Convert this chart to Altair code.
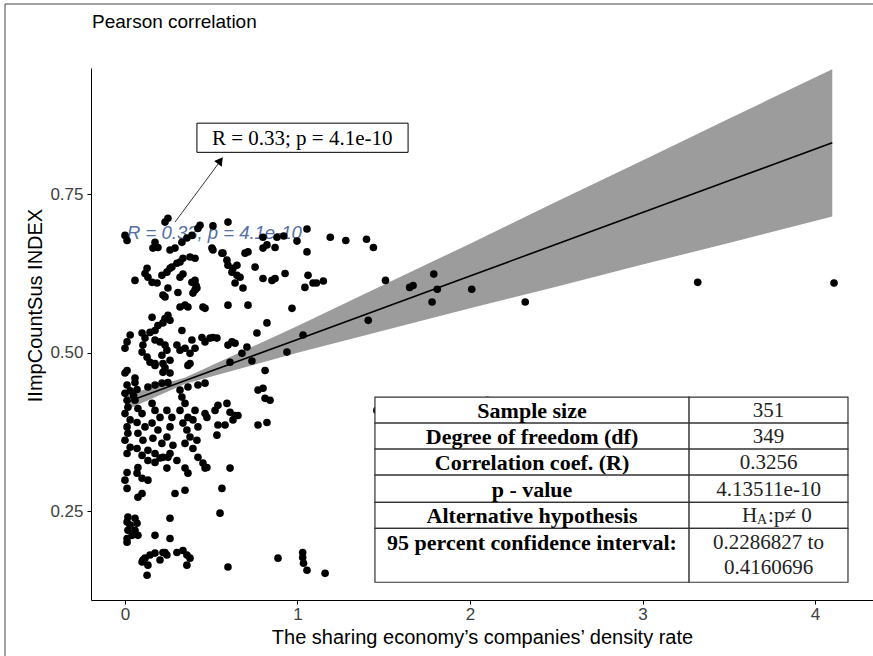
import altair as alt
import pandas as pd

# ---------------- data ----------------
pts_upper = [
    (0, 0.685), (0.012, 0.677), (0.249, 0.712), (0.232, 0.706), (0.174, 0.674), (0.191, 0.666),
    (0.162, 0.665), (0.261, 0.662), (0.29, 0.665), (0.33, 0.674), (0.359, 0.681), (0.388, 0.685),
    (0.423, 0.696), (0.435, 0.701), (0.336, 0.649), (0.319, 0.643), (0.406, 0.649), (0.272, 0.635),
    (0.243, 0.627), (0.301, 0.641), (0.128, 0.633), (0.116, 0.625), (0.133, 0.619), (0.058, 0.614),
    (0.157, 0.611), (0.186, 0.61), (0.249, 0.602), (0.22, 0.591), (0.307, 0.595), (0.394, 0.594),
    (0.417, 0.602), (0.406, 0.614), (0.348, 0.575), (0.365, 0.572), (0.464, 0.57), (0.249, 0.559),
    (0.232, 0.554), (0.22, 0.547), (0.191, 0.543), (0.174, 0.535), (0.33, 0.535), (0.51, 0.70),
    (0.51, 0.662), (0.568, 0.657), (0.319, 0.572), (0.214, 0.622), (0.336, 0.624), (0.319, 0.619),
    (0.388, 0.611), (0.412, 0.606), (0.406, 0.599), (0.232, 0.588), (0.145, 0.532), (0.157, 0.556),
    (0.261, 0.551), (0.261, 0.633), (0.377, 0.651), (0.452, 0.572),
    (0.597, 0.706), (0.504, 0.665), (0.562, 0.657), (0.591, 0.646), (0.597, 0.638), (0.626, 0.633),
    (0.649, 0.638), (0.62, 0.627), (0.649, 0.622), (0.667, 0.619), (0.638, 0.61), (0.684, 0.602),
    (0.696, 0.657), (0.713, 0.659), (0.754, 0.635), (0.8, 0.617), (0.852, 0.614), (0.87, 0.617),
    (0.928, 0.625), (0.8, 0.665), (0.823, 0.67), (0.87, 0.666), (0.8, 0.682), (0.881, 0.682),
    (0.92, 0.684), (1.055, 0.659), (1.061, 0.622), (1.043, 0.603), (1.09, 0.61), (0.597, 0.575),
    (0.713, 0.575), (0.968, 0.57), (0.823, 0.547), (0.765, 0.531), (1.032, 0.528),
]
pts_right = [
    (0.997, 0.676), (1.055, 0.695), (1.19, 0.682), (1.28, 0.677), (1.40, 0.679), (1.44, 0.666),
    (1.51, 0.614), (1.65, 0.603), (1.67, 0.606), (1.79, 0.624), (1.81, 0.600), (1.78, 0.58),
    (2.01, 0.600), (1.41, 0.551), (1.11, 0.61), (1.15, 0.613), (2.32, 0.58), (3.32, 0.611),
    (4.11, 0.61), (1.46, 0.409), (2.10, 0.425),
]
pts_middle = [
    (0.03, 0.528), (0.012, 0.517), (0, 0.507), (0.099, 0.531), (0.116, 0.523), (0.104, 0.512),
    (0.099, 0.501), (0.128, 0.493), (0.145, 0.485), (0.174, 0.48), (0.174, 0.52), (0.203, 0.517),
    (0.232, 0.512), (0.243, 0.504), (0.214, 0.496), (0.301, 0.512), (0.319, 0.504), (0.348, 0.507),
    (0.388, 0.52), (0.406, 0.507), (0.377, 0.499), (0.446, 0.524), (0.464, 0.517), (0.232, 0.476),
    (0.22, 0.469), (0.261, 0.468), (0.365, 0.48), (0, 0.468), (0.012, 0.449), (0.058, 0.453),
    (0.133, 0.446), (0.174, 0.449), (0.214, 0.452), (0.249, 0.453), (0.493, 0.523), (0.51, 0.524),
    (0.533, 0.523), (0.597, 0.512), (0.62, 0.517), (0.638, 0.515), (0.707, 0.509), (0.678, 0.499),
    (0.609, 0.485), (0.736, 0.487), (0.812, 0.472), (0.939, 0.501), (0.771, 0.441), (0.8, 0.444),
    (0.012, 0.472), (0.058, 0.46), (0.174, 0.483), (0.22, 0.483), (0.261, 0.488), (0.377, 0.483),
    (0.319, 0.441), (0.365, 0.446), (0.423, 0.449), (0.464, 0.452), (0, 0.436), (0.012, 0.425),
    (0.017, 0.414), (0, 0.404), (0.058, 0.425), (0.075, 0.412), (0.099, 0.404), (0.157, 0.42),
    (0.174, 0.409), (0.243, 0.409), (0.33, 0.43), (0.348, 0.42), (0.319, 0.409), (0.406, 0.409),
    (0.464, 0.404), (0.475, 0.398), (0.522, 0.409), (0.539, 0.417), (0.591, 0.42), (0.609, 0.406),
    (0.638, 0.401), (0.655, 0.401), (0.841, 0.425), (0.812, 0.428), (0.03, 0.44), (0.05, 0.432),
    (0.07, 0.442),
]
pts_lower = [
    (0.03, 0.394), (0.012, 0.383), (0.017, 0.373), (0, 0.362), (0.03, 0.351), (0.012, 0.341),
    (0.07, 0.39), (0.116, 0.383), (0.075, 0.373), (0.104, 0.362), (0.07, 0.349), (0.133, 0.346),
    (0.099, 0.338), (0.203, 0.398), (0.157, 0.389), (0.191, 0.378), (0.162, 0.365), (0.214, 0.357),
    (0.174, 0.341), (0.22, 0.335), (0.272, 0.398), (0.261, 0.383), (0.243, 0.367), (0.278, 0.354),
    (0.261, 0.341), (0.301, 0.33), (0.365, 0.398), (0.336, 0.389), (0.359, 0.378), (0.377, 0.367),
    (0.348, 0.357), (0.394, 0.394), (0.423, 0.383), (0.417, 0.362), (0.394, 0.349), (0.423, 0.335),
    (0.452, 0.326), (0.464, 0.318), (0.133, 0.33), (0.174, 0.327), (0.203, 0.334), (0.249, 0.335),
    (0.075, 0.319), (0.07, 0.31), (0.099, 0.302), (0.012, 0.311), (0, 0.299), (0.012, 0.286),
    (0.243, 0.318), (0.133, 0.299), (0.348, 0.318), (0.365, 0.31), (0.075, 0.272), (0.099, 0.278),
    (0.29, 0.278), (0.348, 0.283), (0.017, 0.241), (0.012, 0.233), (0.03, 0.228), (0.058, 0.239),
    (0.07, 0.231), (0.017, 0.22), (0.058, 0.22), (0.041, 0.212), (0.012, 0.207), (0.012, 0.201),
    (0.075, 0.212), (0.261, 0.239), (0.174, 0.212), (0.261, 0.207), (0.099, 0.17), (0.116, 0.176),
    (0.145, 0.181), (0.174, 0.184), (0.203, 0.173), (0.232, 0.185), (0.133, 0.165), (0.128, 0.149),
    (0.301, 0.185), (0.336, 0.188), (0.359, 0.181), (0.377, 0.176), (0.359, 0.165), (0.539, 0.386),
    (0.58, 0.386), (0.533, 0.37), (0.771, 0.386), (0.823, 0.39), (0.626, 0.394), (0.475, 0.319),
    (0.609, 0.318), (0.562, 0.286), (0.551, 0.247), (0.887, 0.176), (1.03, 0.185), (1.03, 0.177),
    (1.035, 0.168), (1.055, 0.157), (1.16, 0.152), (0.597, 0.162), (0.22, 0.185), (0.243, 0.181),
    (0.104, 0.173),
]

# fitted regression line and its 95% band
reg_x = [0, 0.35, 1, 1.5, 2, 2.5, 3, 3.5, 4.1]
reg_fit = [0.421, 0.456, 0.521, 0.571, 0.621, 0.671, 0.721, 0.771, 0.831]
reg_lo = [0.409, 0.451, 0.500, 0.535, 0.570, 0.604, 0.639, 0.673, 0.715]
reg_hi = [0.433, 0.461, 0.542, 0.607, 0.672, 0.738, 0.803, 0.869, 0.947]

table_labels = ["Sample size", "Degree of freedom (df)", "Correlation coef. (R)", "p - value",
                "Alternative hypothesis", "95 percent confidence interval:"]
table_values = ["351", "349", "0.3256", "4.13511e-10", "", "0.2286827 to"]
ci_second_line = "0.4160696"
box_label = "R = 0.33; p = 4.1e-10"
cor_label = "R = 0.33, p = 4.1e-10"
chart_title = "Pearson correlation"

# ---------------- layout ----------------
W, H = 782, 532
PAD_L, PAD_T = 91, 68
xs = alt.Scale(domain=[-0.197, 4.336], nice=False, zero=False)
ys = alt.Scale(domain=[0.110, 0.949], nice=False, zero=False)
SERIF = "Liberation Serif"
SANS = "Liberation Sans"

x_axis = alt.Axis(values=[0, 1, 2, 3, 4], format="d",
                  title="The sharing economy\u2019s companies\u2019 density rate")
y_axis = alt.Axis(values=[0.25, 0.5, 0.75], format=".2f", title="IImpCountSus INDEX",
                  titleX=35 - PAD_L, titleY=305 - PAD_T, titleBaseline="middle", titleAlign="center")

points = pd.DataFrame(pts_upper + pts_right + pts_middle + pts_lower, columns=["x", "y"])
reg = pd.DataFrame({"x": reg_x, "fit": reg_fit, "lo": reg_lo, "hi": reg_hi})


def X(f):
    return alt.X(f, type="quantitative", scale=xs, axis=x_axis)


def Y(f):
    return alt.Y(f, type="quantitative", scale=ys, axis=y_axis)


band = alt.Chart(reg).mark_area(color="#9c9c9c", opacity=1).encode(x=X("x"), y=Y("lo"), y2="hi:Q")

cor_text = alt.Chart(pd.DataFrame({"x": [0.012], "y": [0.689], "t": [cor_label]})).mark_text(
    align="left", baseline="middle", font=SANS, fontSize=18.5, fontStyle="italic",
    color="#41609c", opacity=0.9).encode(x=X("x"), y=Y("y"), text="t:N")

pts = alt.Chart(points).mark_circle(size=58, color="black", opacity=1).encode(x=X("x"), y=Y("y"))

line = alt.Chart(reg).mark_line(color="black", strokeWidth=1.6).encode(x=X("x"), y=Y("fit"))

arrow = alt.Chart(pd.DataFrame({"x": [0.29], "y": [0.706], "x2": [0.56], "y2": [0.805]})).mark_rule(
    color="black", strokeWidth=0.8).encode(x=X("x"), y=Y("y"), x2="x2:Q", y2="y2:Q")
arrow_head = alt.Chart(pd.DataFrame({"x": [0.553], "y": [0.803]})).mark_point(
    shape="triangle-up", filled=True, color="black", opacity=1, size=90, angle=37).encode(
    x=X("x"), y=Y("y"))

box_df = pd.DataFrame({"x": [0.417], "x2": [1.641], "y": [0.816], "y2": [0.862]})
box = alt.Chart(box_df).mark_rect(fill="white", stroke="black", strokeWidth=1).encode(
    x=X("x"), x2="x2:Q", y=Y("y"), y2="y2:Q")
box_text = alt.Chart(pd.DataFrame({"x": [0.504], "y": [0.839], "t": [box_label]})).mark_text(
    font=SERIF, fontSize=21, color="black", align="left", baseline="middle", dy=1).encode(
    x=X("x"), y=Y("y"), text="t:N")

# table
TX0, TXM, TX1 = 1.449, 3.270, 4.191
edges = [0.430, 0.389, 0.348, 0.307, 0.264, 0.223, 0.138]
cells = []
for i in range(6):
    cells.append({"x": TX0, "x2": TXM, "y": edges[i + 1], "y2": edges[i]})
    cells.append({"x": TXM, "x2": TX1, "y": edges[i + 1], "y2": edges[i]})
tbl_rect = alt.Chart(pd.DataFrame(cells)).mark_rect(fill="white", stroke="#333333", strokeWidth=1.2).encode(
    x=X("x"), x2="x2:Q", y=Y("y"), y2="y2:Q")
row_y = [(edges[i] + edges[i + 1]) / 2 for i in range(5)] + [edges[5] - 0.021]
lab_df = pd.DataFrame({"x": [(TX0 + TXM) / 2] * 6, "y": row_y, "t": table_labels})
tbl_lab = alt.Chart(lab_df).mark_text(font=SERIF, fontSize=22, fontWeight="bold", color="black",
                                      baseline="middle", dy=1).encode(x=X("x"), y=Y("y"), text="t:N")
val_df = pd.DataFrame({"x": [(TXM + TX1) / 2] * 7, "y": row_y + [edges[5] - 0.061],
                       "t": table_values + [ci_second_line]})
tbl_val = alt.Chart(val_df).mark_text(font=SERIF, fontSize=21, color="#222222",
                                      baseline="middle", dy=1).encode(x=X("x"), y=Y("y"), text="t:N")
ha_y = row_y[4]
ha_main = alt.Chart(pd.DataFrame({"x": [3.664], "y": [ha_y], "t": ["H"]})).mark_text(
    font=SERIF, fontSize=21, color="#222222", align="right", baseline="middle", dy=1).encode(
    x=X("x"), y=Y("y"), text="t:N")
ha_sub = alt.Chart(pd.DataFrame({"x": [3.664], "y": [ha_y], "t": ["A"]})).mark_text(
    font=SERIF, fontSize=14, color="#222222", align="left", baseline="middle", dy=5).encode(
    x=X("x"), y=Y("y"), text="t:N")
ha_rest = alt.Chart(pd.DataFrame({"x": [3.728], "y": [ha_y], "t": [":p\u2260 0"]})).mark_text(
    font=SERIF, fontSize=21, color="#222222", align="left", baseline="middle", dy=1).encode(
    x=X("x"), y=Y("y"), text="t:N")

# chart title and outer frame of the figure (decoration, placed in pixels)
title_mark = alt.Chart(pd.DataFrame({"t": [chart_title]})).mark_text(
    font=SANS, fontSize=19, color="black", align="left", baseline="middle").encode(
    x=alt.value(92 - PAD_L), y=alt.value(22 - PAD_T), text="t:N")
frame_left = alt.Chart(pd.DataFrame({"a": [0]})).mark_rule(color="#444444", strokeWidth=1).encode(
    x=alt.value(5 - PAD_L), y=alt.value(4 - PAD_T), y2=alt.value(656 - PAD_T))
frame_top = alt.Chart(pd.DataFrame({"a": [0]})).mark_rule(color="#444444", strokeWidth=1).encode(
    x=alt.value(5 - PAD_L), x2=alt.value(873 - PAD_L), y=alt.value(4 - PAD_T))

chart = alt.layer(
    band, cor_text, pts, line, arrow, arrow_head, box, box_text,
    tbl_rect, tbl_lab, tbl_val, ha_main, ha_sub, ha_rest, title_mark, frame_left, frame_top,
).properties(
    width=W, height=H,
    autosize=alt.AutoSizeParams(type="none"),
    padding={"left": PAD_L, "top": PAD_T, "right": 0, "bottom": 656 - PAD_T - H},
).configure_view(stroke=None).configure_axis(
    grid=False, domainColor="black", domainWidth=1, tickColor="black", tickSize=4,
    labelFont=SANS, labelFontSize=17, labelColor="#404040", titleFont=SANS,
    titleFontSize=20, titleFontWeight="normal", titleColor="black",
).configure_axisX(labelPadding=2, titlePadding=5).configure_axisY(labelPadding=4)

chart.save("out.html", embed_options={"renderer": "svg", "actions": False})
